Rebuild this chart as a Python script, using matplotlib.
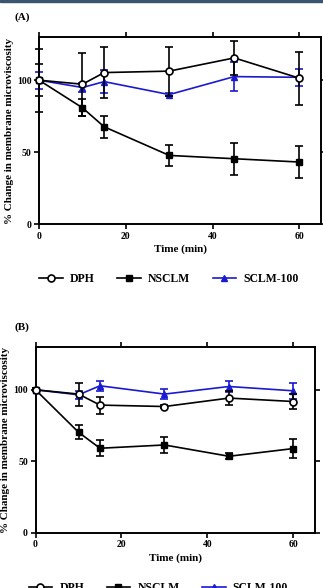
import matplotlib.pyplot as plt
from matplotlib.lines import Line2D
from matplotlib.patches import Rectangle

plt.rcParams['font.family'] = ['Liberation Serif', 'DejaVu Serif']
plt.rcParams['font.weight'] = 'bold'

t = [0, 10, 15, 30, 45, 60]

# panel A
dph_a = [100, 97.2, 105.3, 106.3, 115.5, 101.4]
dph_a_err = [22, 22, 18, 17, 12, 18.5]
nsclm_a = [100, 80.8, 67.6, 47.7, 45.4, 43.1]
nsclm_a_err = [11, 6, 7.5, 7.5, 11, 11]
sclm_a = [100, 94.9, 99.0, 90.0, 102.5, 102.0]
sclm_a_err = [6, 3, 8, 1, 10, 6]

# panel B
dph_b = [100, 97.0, 89.3, 88.3, 94.2, 91.8]
dph_b_err = [1, 8, 6, 1, 5, 5]
nsclm_b = [100, 70.3, 59.1, 61.4, 53.5, 58.9]
nsclm_b_err = [1, 5, 5.5, 5.7, 2, 6.5]
sclm_b = [100, 96.5, 102.8, 97.0, 102.3, 99.3]
sclm_b_err = [1, 3, 3.5, 3.5, 4, 5.5]

blue = '#1a1ad0'

fig = plt.figure(figsize=(3.23, 5.88), dpi=100)
fig.patches.append(Rectangle((0, 0.996), 1, 0.004, transform=fig.transFigure,
                             color='#3a5570', zorder=10))


def panel(rect, label, dph, dph_e, ns, ns_e, sc, sc_e, leg_x, leg_y, spacing):
    ax = fig.add_axes(rect)
    kw = dict(lw=1.2, capsize=3, elinewidth=1.2, capthick=1.2, clip_on=False)
    ax.errorbar(t, sc, yerr=sc_e, color=blue, marker='^', ms=4.5, zorder=3, **kw)
    ax.errorbar(t, ns, yerr=ns_e, color='black', marker='s', ms=5, zorder=4, **kw)
    ax.errorbar(t, dph, yerr=dph_e, color='black', marker='o', ms=5,
                mfc='white', mew=1.2, zorder=5, **kw)
    ax.set_xlim(0, 65)
    ax.set_ylim(0, 130)
    ax.set_xticks([0, 20, 40, 60])
    ax.set_yticks([0, 50, 100])
    for s in ax.spines.values():
        s.set_linewidth(1.4)
    ax.tick_params(direction='out', length=3.5, width=1.2, labelsize=7,
                   top=True, right=True, pad=2)
    ax.set_xlabel('Time (min)', fontsize=8, fontweight='bold', labelpad=3)
    ax.set_ylabel('% Change in membrane microviscosity', fontsize=8,
                  fontweight='bold', labelpad=2)
    for lab in ax.get_xticklabels() + ax.get_yticklabels():
        lab.set_fontweight('bold')
    fig.text(0.045, rect[1] + rect[3] + 0.03, label, fontsize=8,
             fontweight='bold')
    handles = [
        Line2D([], [], color='black', marker='o', mfc='white', ms=5, mew=1.2, lw=1.2),
        Line2D([], [], color='black', marker='s', ms=5, lw=1.2),
        Line2D([], [], color=blue, marker='^', ms=4.5, lw=1.2),
    ]
    fig.legend(handles, ['DPH', 'NSCLM', 'SCLM-100'], loc='center',
               bbox_to_anchor=(leg_x, leg_y), ncol=3, frameon=False,
               fontsize=8.5, handlelength=2.0, columnspacing=spacing,
               handletextpad=0.6)
    return ax


panel([0.121, 0.619, 0.873, 0.318], '(A)', dph_a, dph_a_err, nsclm_a,
      nsclm_a_err, sclm_a, sclm_a_err, 0.523, 0.525, 1.9)
panel([0.11, 0.094, 0.865, 0.316], '(B)', dph_b, dph_b_err, nsclm_b,
      nsclm_b_err, sclm_b, sclm_b_err, 0.49, 0.0, 1.9)

fig.savefig('out.png', dpi=100)
